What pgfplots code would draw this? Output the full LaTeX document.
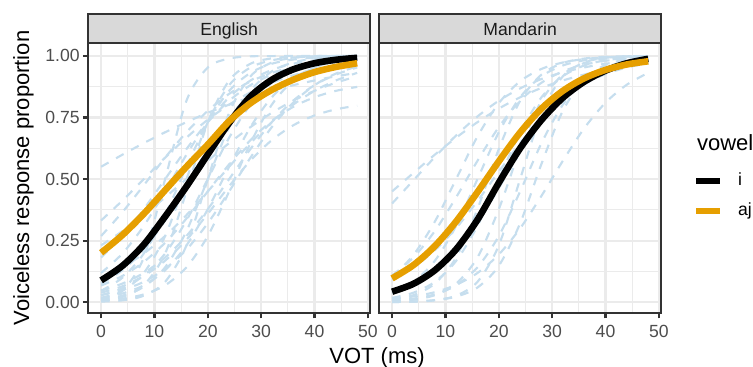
\documentclass[border=0pt]{standalone}
\usepackage{fontspec}
\setmainfont{Liberation Sans}
\usepackage{pgfplots}
\usepackage{pgfplotstable}
\pgfplotsset{compat=1.18}
\definecolor{indblue}{RGB}{198,222,238}
\definecolor{ajorange}{HTML}{E69F00}
\definecolor{grid92}{HTML}{EBEBEB}
\definecolor{grey20}{HTML}{333333}
\definecolor{grey30}{HTML}{4D4D4D}
\definecolor{grey85}{HTML}{D9D9D9}
\definecolor{grey10}{HTML}{1A1A1A}

\pgfplotstableread{
x  e1   e2   e3   e4   e5   e6   e7   e8   e9   e10  e11  e12  e13  e14  e15  e16  e17  e18  e19  e20  e21  i    aj
0  .550 .039 .068 .231 .007 .011 .018 .029 .047 .076 .119 .182 .003 .007 .018 .047 .100 .011 .269 .029 .332 .089 .201
4  .599 .065 .107 .289 .022 .027 .047 .057 .100 .130 .198 .269 .008 .015 .036 .076 .142 .047 .366 .050 .413 .148 .273
8  .646 .107 .164 .354 .069 .063 .119 .109 .198 .214 .310 .378 .027 .032 .069 .119 .198 .182 .475 .083 .500 .234 .359
12 .690 .169 .242 .426 .198 .142 .269 .198 .354 .332 .450 .500 .083 .069 .130 .182 .269 .500 .587 .136 .587 .348 .455
16 .731 .254 .340 .500 .450 .289 .500 .332 .550 .475 .599 .622 .231 .142 .231 .269 .354 .818 .690 .214 .668 .470 .550
20 .769 .359 .450 .574 .731 .500 .731 .500 .731 .622 .731 .731 .500 .269 .378 .378 .450 .953 .777 .321 .741 .600 .640
24 .802 .471 .560 .646 .900 .711 .881 .668 .858 .750 .832 .818 .769 .450 .550 .500 .550 .989 .846 .450 .802 .728 .735
28 .832 .575 .658 .711 .968 .858 .953 .802 .931 .846 .900 .881 .917 .646 .711 .622 .646 .998 .896 .587 .852 .835 .808
32 .858 .658 .736 .769 .990 .937 .982 .891 .968 .909 .943 .924 .973 .802 .832 .731 .731 .999 .931 .711 .891 .903 .862
36 .881 .718 .793 .818 .997 .973 .993 .943 .985 .948 .968 .953 .992 .900 .909 .818 .802 1.00 .955 .810 .921 .945 .903
40 .900 .758 .832 .858 .999 .989 .998 .971 .993 .971 .982 .971 .998 .953 .953 .881 .858 1.00 .971 .881 .943 .970 .934
44 .917 .783 .858 .891 1.00 .995 .999 .985 .997 .984 .990 .982 .999 .978 .976 .924 .900 1.00 .981 .928 .959 .984 .955
48 .931 .798 .874 .917 1.00 .998 1.00 .993 .999 .991 .994 .989 1.00 .990 .988 .953 .931 1.00 .988 .957 .971 .992 .970
}\english

\pgfplotstableread{
x  m1   m2   m3   m4   m5   m6   m7   m8   m9   m10  m11  m12  m13  m14  i    aj
0  .450 .401 .013 .007 .004 .018 .011 .039 .109 .041 .001 .103 .093 .001 .043 .097
4  .525 .495 .024 .015 .011 .039 .029 .083 .182 .072 .003 .192 .142 .003 .075 .151
8  .599 .589 .041 .032 .029 .083 .076 .168 .289 .125 .008 .327 .211 .009 .130 .228
12 .668 .677 .071 .069 .076 .168 .182 .310 .426 .206 .027 .500 .301 .023 .215 .328
16 .731 .754 .119 .142 .182 .310 .378 .500 .574 .321 .083 .673 .411 .060 .335 .447
20 .786 .818 .194 .269 .378 .500 .622 .690 .711 .463 .231 .808 .530 .148 .485 .572
24 .832 .868 .300 .450 .622 .690 .818 .832 .818 .611 .500 .897 .646 .321 .625 .689
28 .870 .906 .432 .646 .818 .832 .924 .917 .891 .741 .769 .947 .746 .562 .740 .786
32 .900 .933 .574 .802 .924 .917 .971 .961 .937 .839 .917 .973 .826 .777 .830 .858
36 .924 .953 .706 .900 .971 .961 .989 .982 .964 .905 .973 .987 .885 .905 .895 .909
40 .943 .968 .810 .953 .989 .982 .996 .992 .980 .945 .992 .994 .926 .963 .940 .943
44 .957 .978 .883 .978 .996 .992 .998 .996 .989 .969 .998 .997 .953 .986 .970 .965
48 .968 .985 .931 .990 .998 .996 .999 .998 .994 .983 .999 .998 .970 .995 .988 .978
}\mandarin

\pgfplotsset{
  facet/.style={
    anchor=south west, scale only axis, width=140.85pt, height=134.85pt,
    xmin=-2.4, xmax=50.4, ymin=-0.0434, ymax=1.051,
    xtick={0,10,20,30,40,50}, xticklabels={0,10,20,30,40,50},
    ytick={0,0.25,0.5,0.75,1},
    minor xtick={5,15,25,35,45}, minor ytick={0.125,0.375,0.625,0.875},
    grid=both,
    major grid style={grid92, line width=1.07pt},
    minor grid style={grid92, line width=0.53pt},
    axis line style={grey20, line width=1.07pt},
    tick align=outside, major tick length=2.75pt, minor tick length=0pt,
    tick style={grey20, line width=1.07pt},
    xtick pos=left, ytick pos=left,
    ticklabel style={font=\fontsize{8.8}{10}\selectfont, text=grey30, inner sep=0pt},
    xticklabel style={anchor=north, yshift=-3.25pt},
    yticklabel style={anchor=east, xshift=-1.4pt},
  },
  ind/.style={indblue, line width=1.07pt, dash pattern=on 4.3pt off 4.3pt, smooth, forget plot},
  mainline/.style={line width=3.3pt, smooth},
}

\begin{document}
\begin{tikzpicture}
\begin{axis}[facet, name=en, at={(44.15pt,27pt)},
  yticklabels={0.00,0.25,0.50,0.75,1.00}]
\pgfplotsinvokeforeach{1,...,21}{\addplot[ind] table[x=x,y=e#1]{\english};}
\addplot[mainline, black] table[x=x,y=i]{\english};
\addplot[mainline, ajorange] table[x=x,y=aj]{\english};
\end{axis}

\begin{axis}[facet, name=ma, at={(189.65pt,27pt)},
  yticklabels={}, ytick style={draw=none},
  legend cell align=left,
  legend style={at={(axis description cs:1.1136,0.5172)}, anchor=north west,
    draw=none, fill=none, inner sep=0pt, outer sep=0pt,
    row sep=7.5pt, column sep=7.3pt,
    font=\fontsize{8.8}{10}\selectfont,
    nodes={inner sep=0pt, text height=6pt, text depth=1.5pt}},
  legend image code/.code={\draw[#1, line cap=butt] (0pt,0pt) -- (12pt,0pt);}]
\pgfplotsinvokeforeach{1,...,14}{\addplot[ind] table[x=x,y=m#1]{\mandarin};}
\addplot[mainline, black] table[x=x,y=i]{\mandarin};
\addlegendentry{i}
\addplot[mainline, ajorange] table[x=x,y=aj]{\mandarin};
\addlegendentry{aj}
\end{axis}

\draw[grey20, line width=1.07pt, fill=grey85] (en.north west) rectangle ([yshift=14.5pt]en.north east);
\node[anchor=base, font=\fontsize{8.8}{10}\selectfont, text=grey10] at ([yshift=4pt]en.north) {English};
\draw[grey20, line width=1.07pt, fill=grey85] (ma.north west) rectangle ([yshift=14.5pt]ma.north east);
\node[anchor=base, font=\fontsize{8.8}{10}\selectfont, text=grey10] at ([yshift=4pt]ma.north) {Mandarin};

\node[anchor=base, font=\fontsize{11}{13}\selectfont] at (188.5pt,1.85pt) {VOT (ms)};
\node[anchor=base, rotate=90, font=\fontsize{11}{13}\selectfont] at (14.5pt,94.5pt) {Voiceless response proportion};
\node[anchor=base west, font=\fontsize{11}{13}\selectfont] at (345pt,108.15pt) {vowel};

\pgfresetboundingbox
\path[use as bounding box] (0,0) rectangle (376.5pt,183.5pt);
\end{tikzpicture}
\end{document}
